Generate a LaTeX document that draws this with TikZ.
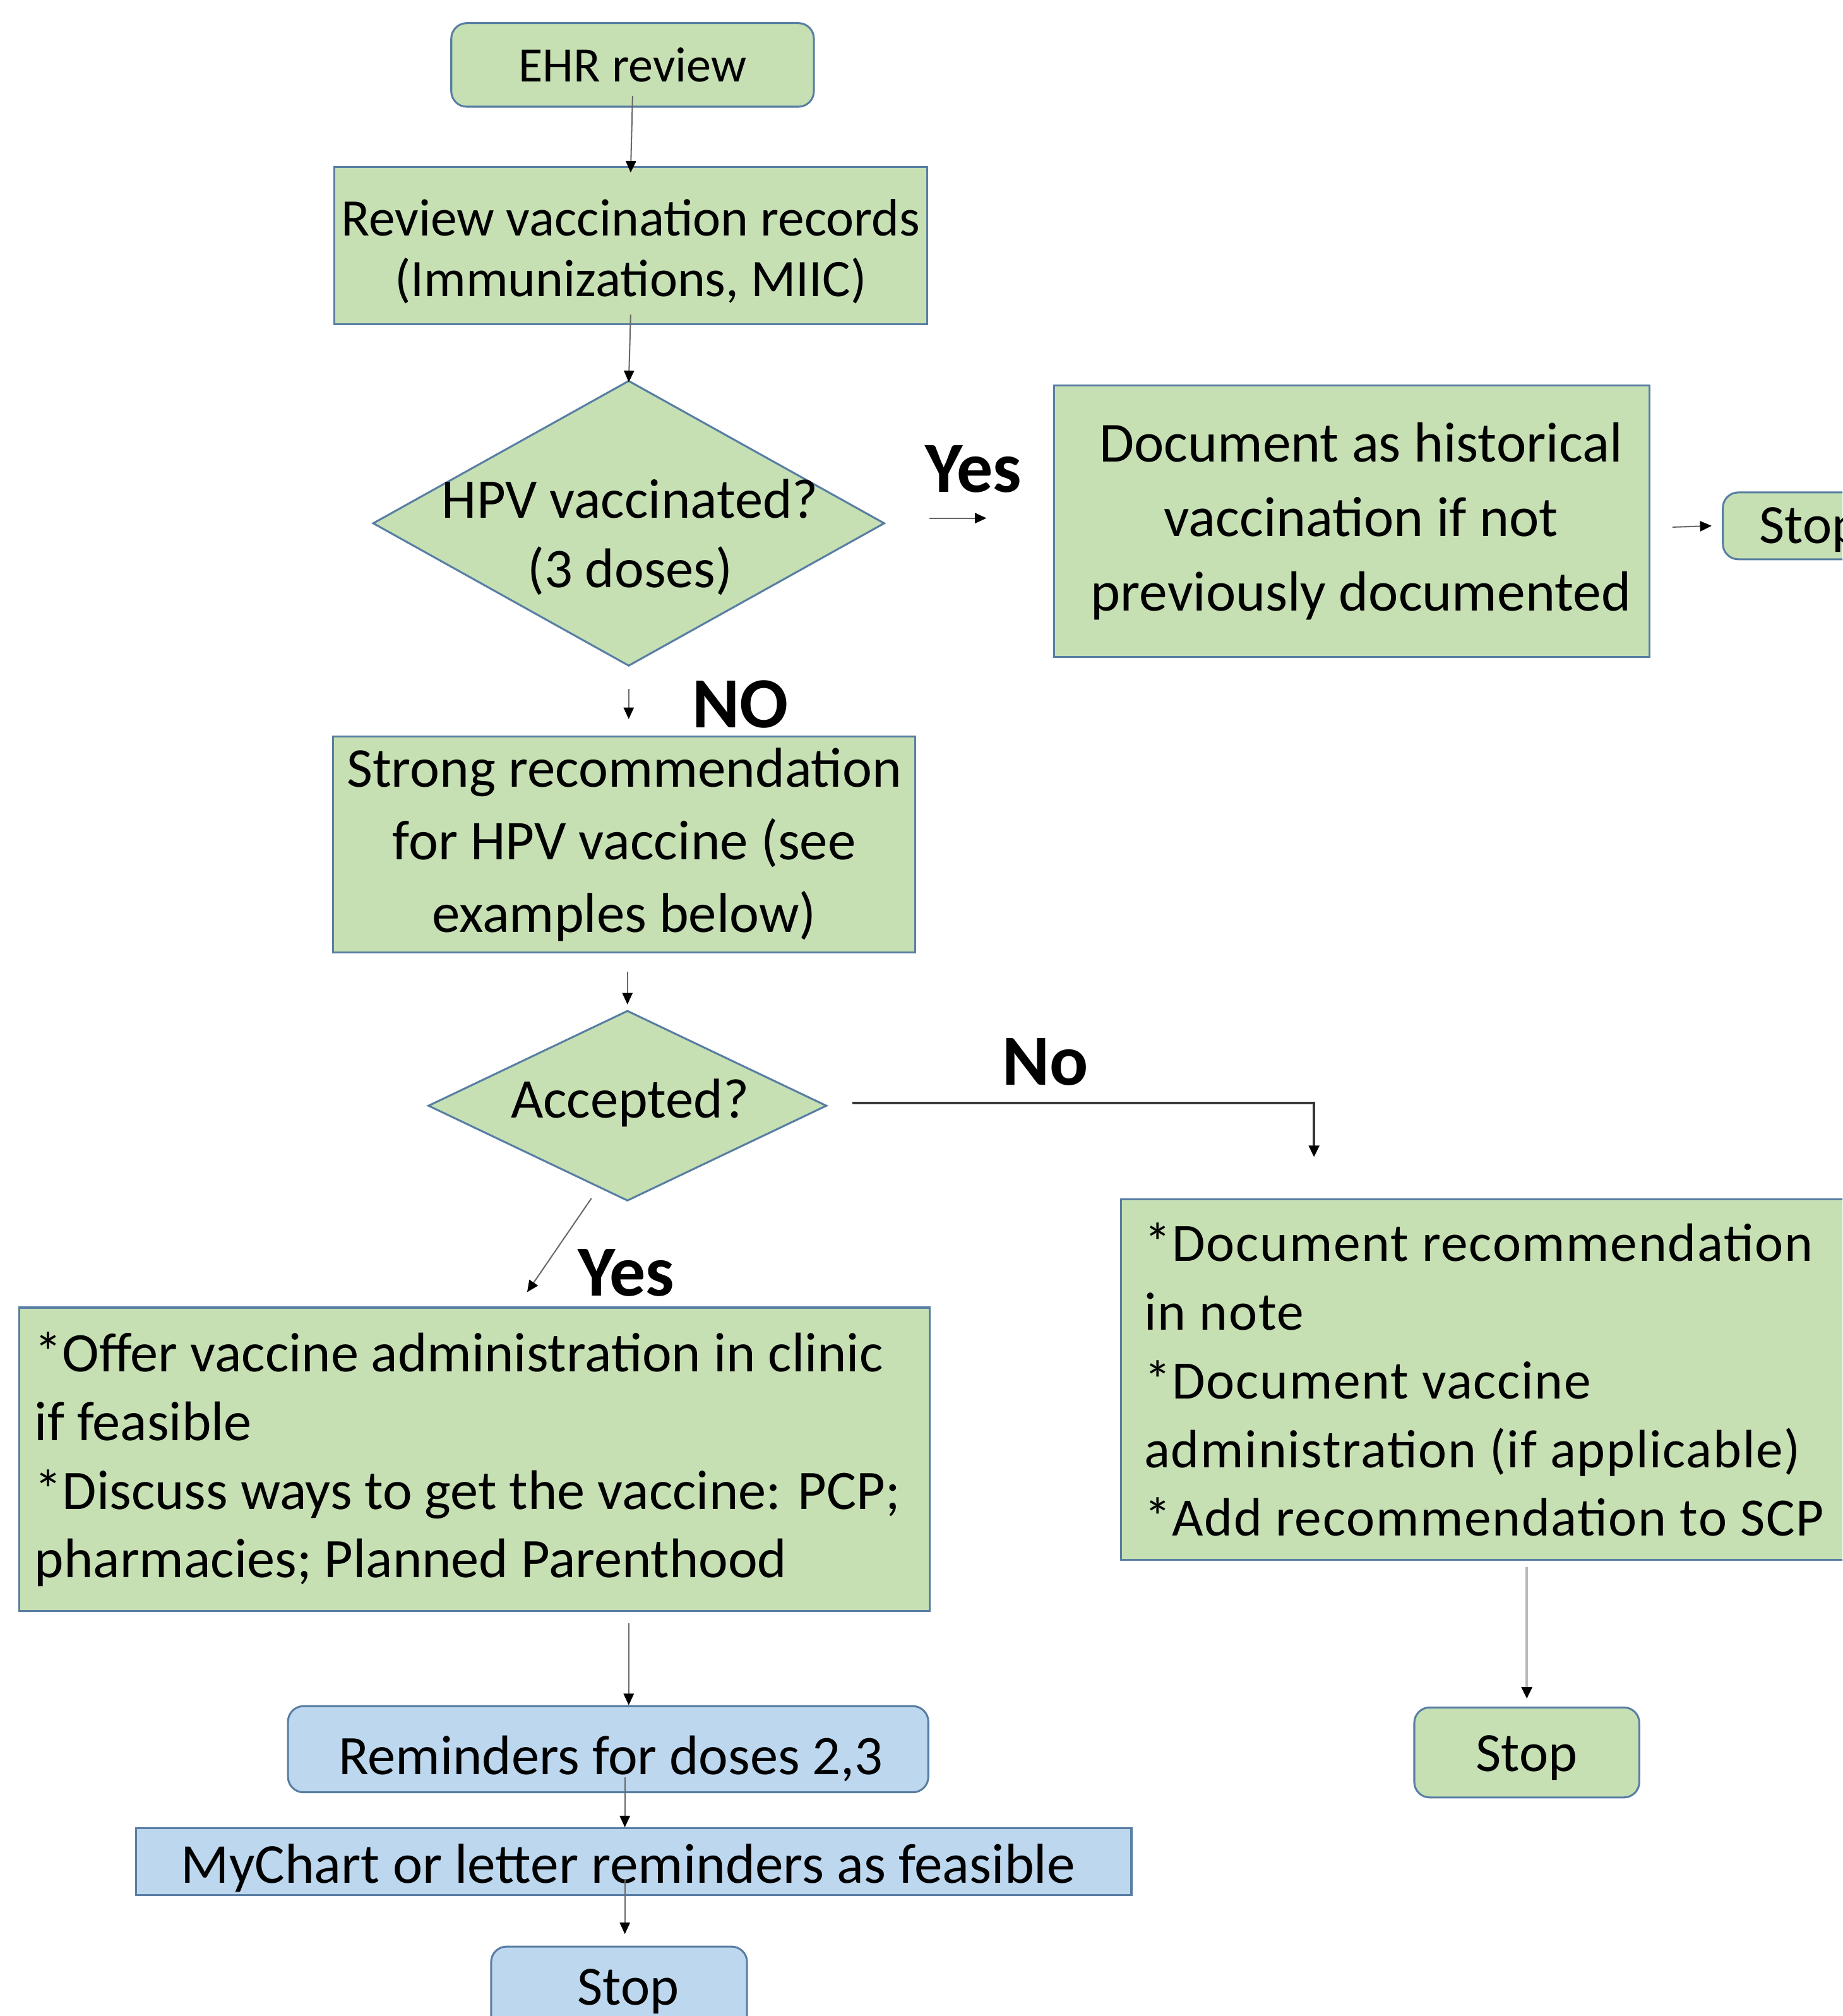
\documentclass[tikz,border=0pt]{standalone}
\usepackage{fontspec}
\setmainfont{Carlito}
\usetikzlibrary{shapes.geometric,arrows.meta}
\definecolor{gfill}{RGB}{198,224,180}
\definecolor{bfill}{RGB}{189,215,238}
\definecolor{bord}{RGB}{88,126,163}
\definecolor{conn}{RGB}{105,105,105}
\definecolor{connlight}{RGB}{185,185,185}
\definecolor{conndark}{RGB}{55,55,55}
\newcommand\myfs[2]{\fontsize{#1}{#2}\selectfont}
\tikzset{
  box/.style={draw=bord, line width=1.5pt, fill=gfill, rectangle, inner sep=0pt, align=center},
  rbox/.style={box, rounded corners=12pt},
  bluebox/.style={fill=bfill},
  dia/.style={draw=bord, line width=1.5pt, fill=gfill, diamond, inner sep=0pt},
  lbl/.style={font=\bfseries\myfs{56}{60}, inner sep=0pt},
  txt/.style={align=center, inner sep=0pt},
  arr/.style={draw=conn, line width=1pt, -{Triangle[length=9pt,width=8pt,color=black]}},
}
\begin{document}
\begin{tikzpicture}[x=1pt,y=-1pt]
\useasboundingbox (0,0) rectangle (1433,1568);
\clip (0,0) rectangle (1433,1568);
\fill[white] (0,0) rectangle (1433,1568);

% nodes
\node[rbox, minimum width=282pt, minimum height=65pt, font=\myfs{38.5}{48}] (ehr) at (492,50.5) {EHR review};
\node[box, minimum width=461pt, minimum height=122pt, font=\myfs{41}{47}] (rev) at (490.5,191) {\rule{0pt}{38pt}Review vaccination records\\(Immunizations, MIIC)};
\node[dia, minimum width=398pt, minimum height=222pt] (hpv) at (489,407) {};
\node[txt, font=\myfs{43.5}{54}] (hpvt) at (490,418) {HPV vaccinated?\\(3 doses)};
\node[box, minimum width=463pt, minimum height=211pt, font=\myfs{44}{58}] (doc) at (1051.5,405.5) {\hspace*{14pt}Document as historical\\\hspace*{14pt}vaccination if not\\\hspace*{14pt}previously documented};
\node[rbox, minimum width=136pt, minimum height=52pt, font=\myfs{43}{50}, text height=33pt, text depth=6pt] (stop1) at (1408,409) {Stop};
\node[box, minimum width=453pt, minimum height=168pt, font=\myfs{43.7}{56.5}] (strong) at (485.5,657) {Strong recommendation\\for HPV vaccine (see\\examples below)};
\node[dia, minimum width=310pt, minimum height=148pt] (acc) at (488,860) {};
\node[txt, font=\myfs{43.6}{50}] (acct) at (490,858) {Accepted?};
\node[box, minimum width=708pt, minimum height=236pt, text width=684pt, align=flush left, font=\myfs{43.4}{53.5}] (offer) at (369,1135) {\mbox{*Offer vaccine administration in clinic}\\\mbox{if feasible}\\{}\mbox{*Discuss ways to get the vaccine: PCP;}\\\mbox{pharmacies; Planned Parenthood}};
\node[box, minimum width=573pt, minimum height=280pt, text width=537pt, align=flush left, font=\myfs{42}{53.5}\addfontfeature{LetterSpace=2}] (docrec) at (1158.5,1073) {\mbox{*Document recommendation}\\\mbox{in note}\\{}\mbox{*Document vaccine}\\\mbox{administration (if applicable)}\\{}\mbox{*Add recommendation to SCP}};
\node[rbox, minimum width=175pt, minimum height=70pt, font=\myfs{43}{50}, text height=35pt, text depth=6pt] (stop3) at (1187.5,1363) {Stop};
\node[rbox, bluebox, minimum width=498pt, minimum height=67pt, font=\myfs{43.4}{50}, text height=45pt, text depth=6pt] (rem) at (473,1360.5) {\hspace*{4pt}Reminders for doses 2,3};
\node[box, bluebox, minimum width=774pt, minimum height=52pt, font=\myfs{43.85}{50}, text height=40pt, text depth=7pt] (mych) at (493,1448) {MyChart or letter reminders as feasible\hspace*{9pt}};
\node[rbox, bluebox, minimum width=199pt, minimum height=70pt, font=\myfs{43}{50}] (stop2) at (481.5,1549) {\hspace*{14pt}Stop};

% labels
\node[lbl] (yes1) at (757,365) {Yes};
\node[lbl] (no1) at (576,548) {NO};
\node[lbl] (no2) at (813,826) {No};
\node[lbl] (yes2) at (487,990) {Yes};

% free ends
\coordinate (noend) at (1022,900);
\coordinate (yesa) at (460,932);
\coordinate (yesb) at (410,1005);

% connectors
\draw[arr] ([yshift=9pt]ehr.south) -- ([yshift=-5pt]rev.north);
\draw[arr] ([yshift=8pt]rev.south) -- ([yshift=-2pt]hpv.north);
\draw[arr] ([xshift=34pt,yshift=4pt]hpv.east) -- ([xshift=-52pt,yshift=2.5pt]doc.west);
\draw[arr] ([xshift=17pt,yshift=-4.5pt]doc.east) -- ([xshift=-8pt]stop1.west);
\draw[arr] ([yshift=-17pt]hpv.south) -- ([yshift=13pt]strong.north -| hpv.south);
\draw[arr] ([yshift=-14pt]strong.south -| acc.north) -- ([yshift=4pt]acc.north);
\draw[arr, draw=conndark, line width=2pt] ([xshift=19pt,yshift=2pt]acc.east) -| (noend);
\draw[arr] (yesa) -- (yesb);
\draw[arr, shorten <=9pt] (offer.south -| hpv.south) -- (rem.north -| hpv.south);
\draw[arr] ([xshift=13pt,yshift=-22pt]rem.center) -- ([xshift=-7pt]mych.north);
\draw[arr] ([xshift=-7pt,yshift=-14pt]mych.center) -- ([xshift=4.5pt,yshift=9pt]stop2.north);
\draw[arr, draw=connlight, line width=2pt, shorten <=5pt] (docrec.south -| stop3.north) -- ([yshift=6pt]stop3.north);
\end{tikzpicture}
\end{document}
